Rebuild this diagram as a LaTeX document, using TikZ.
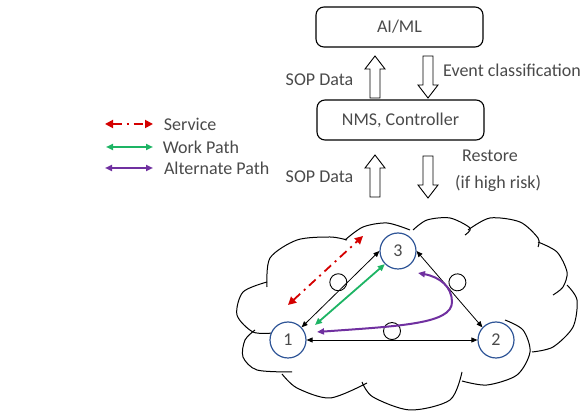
\documentclass[tikz,border=0pt]{standalone}
\usepackage{fontspec}
\setmainfont{Carlito}
\usetikzlibrary{arrows.meta}

\definecolor{txtgray}{HTML}{4A4A4A}
\definecolor{srvred}{HTML}{D40000}
\definecolor{workgreen}{HTML}{1DB464}
\definecolor{altpurple}{HTML}{7030A0}
\definecolor{nodeblue}{HTML}{2F5597}

% hollow block arrow pointing up
\tikzset{pics/hollowup/.style={code={
  \draw[line width=0.9pt, fill=white] (-5,-21) -- (-5,8) -- (-10,8) -- (0,21) -- (10,8) -- (5,8) -- (5,-21) -- cycle;}}}

\begin{document}
\begin{tikzpicture}[x=1pt, y=1pt,
  font=\fontsize{18}{21}\selectfont,
  box/.style={draw, line width=1.1pt, rounded corners=8pt, minimum width=167pt, minimum height=40pt, text=txtgray},
  txt/.style={text=txtgray, inner sep=0pt},
  router/.style={circle, draw=nodeblue, line width=1.2pt, fill=white, minimum size=36pt, inner sep=0pt, text=txtgray},
  link/.style={line width=0.8pt, {Triangle[length=6pt,width=5pt]}-{Triangle[length=6pt,width=5pt]}},
  ring/.style={circle, draw, line width=0.9pt, minimum size=17pt, inner sep=0pt},
  service/.style={srvred, line width=1.8pt, dash pattern=on 9pt off 5pt on 2pt off 5pt, {Triangle[length=8pt,width=8pt]}-{Triangle[length=8pt,width=8pt]}},
  work/.style={workgreen, line width=1.8pt, {Triangle[length=7pt,width=6pt]}-{Triangle[length=7pt,width=6pt]}},
  alt/.style={altpurple, line width=2pt, {Triangle[length=7pt,width=6pt]}-{Triangle[length=7pt,width=6pt]}},
  cloudline/.style={line width=1pt}]
\useasboundingbox (0,0) rectangle (584,412);

% control plane
\node[box] (ai) at (399.5,385) {AI/ML};
\node[box] (nms) at (400.5,292) {NMS, Controller};
\pic (sopUp) at (375,335) {hollowup};
\pic[rotate=180] (evDown) at (428,335) {hollowup};
\pic (sopIn) at (375,236) {hollowup};
\pic[rotate=180] (rstDown) at (428,235) {hollowup};
\node[txt] (sopA) at (319.5,332) {SOP Data};
\node[txt, anchor=west] (evTxt) at (443,342) {Event classification};
\node[txt] (sopB) at (319.5,235) {SOP Data};
\node[txt, anchor=west] (rstTxt) at (462,256) {Restore};
\node[txt, anchor=west] (riskTxt) at (455,229) {(if high risk)};

% legend
\draw[service] (105,288) -- (153,288) node[txt, anchor=west, xshift=10pt] (lgService) {Service};
\draw[work] (106,265) -- (153,265) node[txt, anchor=west, xshift=9pt] (lgWork) {Work Path};
\draw[alt] (105,244) -- (153,244) node[txt, anchor=west, xshift=10pt] (lgAlt) {Alternate Path};

% network cloud, one puff at a time
\draw[cloudline] plot[smooth] coordinates {(267,130) (243,120) (237,97) (253,80) (273,79)};
\draw[cloudline] plot[smooth] coordinates {(255,82) (245,72) (243,55) (257,42) (292,40)};
\draw[cloudline] plot[smooth] coordinates {(282,38) (297,24) (330,14) (367,29)};
\draw[cloudline] plot[smooth] coordinates {(362,30) (373,15) (410,2) (450,12) (462,40)};
\draw[cloudline] plot[smooth] coordinates {(462,31) (487,27) (517,37) (530,60) (523,82) (505,92)};
\draw[cloudline] plot[smooth] coordinates {(532,60) (553,65) (573,85) (577,112) (567,127)};
\draw[cloudline] plot[smooth] coordinates {(538,170) (557,160) (567,140) (563,125) (553,117)};
\draw[cloudline] plot[smooth] coordinates {(468,182) (490,194) (520,190) (538,174) (538,165)};
\draw[cloudline] plot[smooth] coordinates {(413,182) (427,192) (450,194) (470,184) (465,177)};
\draw[cloudline] plot[smooth] coordinates {(345,172) (363,185) (387,189) (410,182)};
\draw[cloudline] plot[smooth] coordinates {(267,125) (270,154) (297,172) (330,175) (347,172)};

% routers
\node[router] (n1) at (288,72) {1};
\node[router] (n2) at (496,72) {2};
\node[router] (n3) at (398,161) {3};

% links with their rings
\draw[link] (n1) -- (n2) node[ring, pos=.5, anchor=south] (r12) {};
\draw[link] (n1.43) -- (n3.west) node[ring, pos=.53, sloped, above=-2.5pt] (r13) {};
\draw[link] (n3.east) -- (n2.137) node[ring, pos=.5, sloped, above=1.5pt] (r32) {};

% service and its paths
\coordinate (svcA) at (288,107);
\coordinate (svcB) at (363,176);
\draw[service] (svcA) -- (svcB);
\draw[work] ([shift={(27,15)}]n1.center) -- (n3.225);
\draw[alt] ([shift={(29,8)}]n1.center) .. controls (400,86) and (452,88) .. (452,110)
  .. controls (452,125) and (440,135) .. ([shift={(20,-22)}]n3.center);
\end{tikzpicture}
\end{document}
